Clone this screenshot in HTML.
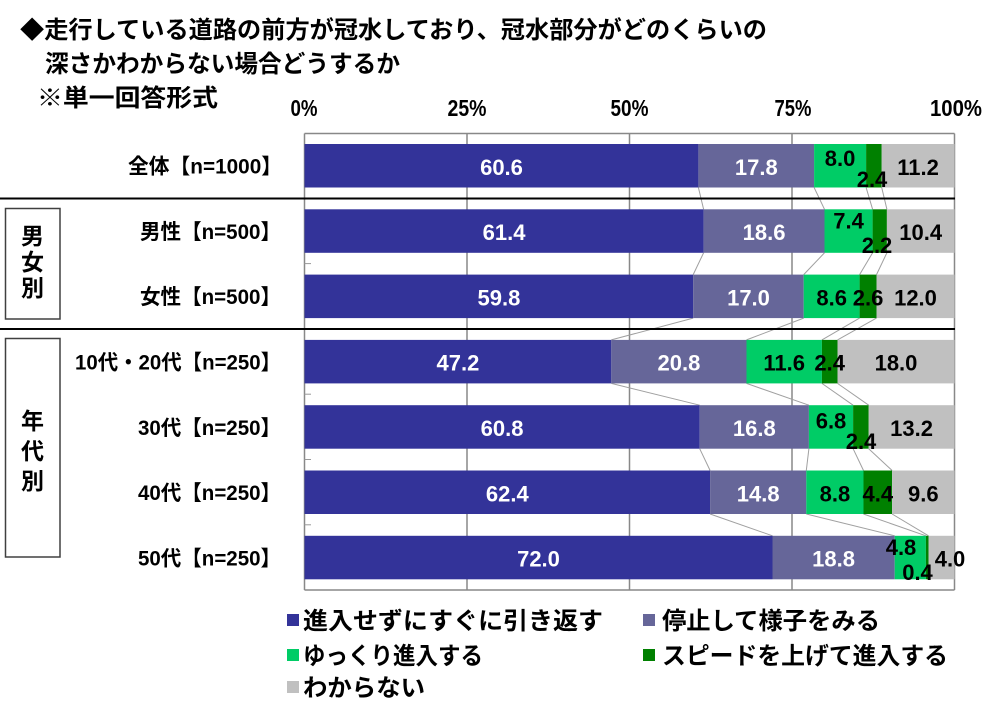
<!DOCTYPE html>
<html>
<head>
<meta charset="utf-8">
<style>
html,body{margin:0;padding:0;background:#fff;}
svg{display:block;}
.t{font-family:"Liberation Sans","Noto Sans CJK JP",sans-serif;font-weight:bold;fill:#000;}
.w{fill:#fff;}
</style>
</head>
<body>
<svg width="1000" height="703" viewBox="0 0 1000 703" xmlns="http://www.w3.org/2000/svg">
<rect x="0" y="0" width="1000" height="703" fill="#fff"/>

<!-- Title -->
<text class="t" x="20" y="38" font-size="24" textLength="747" lengthAdjust="spacingAndGlyphs">◆走行している道路の前方が冠水しており、冠水部分がどのくらいの</text>
<text class="t" x="45" y="72" font-size="24" textLength="355" lengthAdjust="spacingAndGlyphs">深さかわからない場合どうするか</text>
<text class="t" x="37" y="106" font-size="24" textLength="181" lengthAdjust="spacingAndGlyphs">※単一回答形式</text>

<!-- Axis labels -->
<g class="t" font-size="23" text-anchor="middle">
<text x="304" y="116" textLength="27" lengthAdjust="spacingAndGlyphs">0%</text>
<text x="467" y="116" textLength="39" lengthAdjust="spacingAndGlyphs">25%</text>
<text x="629.5" y="116" textLength="38" lengthAdjust="spacingAndGlyphs">50%</text>
<text x="793" y="116" textLength="37" lengthAdjust="spacingAndGlyphs">75%</text>
<text x="956" y="116" textLength="52" lengthAdjust="spacingAndGlyphs">100%</text>
</g>

<!-- Plot border & gridlines -->
<g stroke="#888" stroke-width="1.5" fill="none">
<line x1="304.5" y1="133.5" x2="954.5" y2="133.5"/>
<line x1="954.5" y1="133.5" x2="954.5" y2="590"/>
<line x1="304.5" y1="590" x2="954.5" y2="590"/>
<line x1="304.5" y1="133.5" x2="304.5" y2="590"/>
<line x1="467" y1="133.5" x2="467" y2="590"/>
<line x1="629.5" y1="133.5" x2="629.5" y2="590"/>
<line x1="792" y1="133.5" x2="792" y2="590"/>
</g>
<g stroke="#999" stroke-width="1">
<line x1="304.5" y1="263.6" x2="311" y2="263.6"/>
<line x1="304.5" y1="394.2" x2="311" y2="394.2"/>
<line x1="304.5" y1="459.5" x2="311" y2="459.5"/>
<line x1="304.5" y1="524.8" x2="311" y2="524.8"/>
</g>

<!-- Connector lines -->
<g stroke="#a0a0a0" stroke-width="1">
<line x1="698.4" y1="187.5" x2="703.6" y2="209.3"/>
<line x1="814.1" y1="187.5" x2="824.5" y2="209.3"/>
<line x1="866.1" y1="187.5" x2="872.6" y2="209.3"/>
<line x1="881.7" y1="187.5" x2="886.9" y2="209.3"/>

<line x1="703.6" y1="252.8" x2="693.2" y2="274.6"/>
<line x1="824.5" y1="252.8" x2="803.7" y2="274.6"/>
<line x1="872.6" y1="252.8" x2="859.6" y2="274.6"/>
<line x1="886.9" y1="252.8" x2="876.5" y2="274.6"/>

<line x1="693.2" y1="318.1" x2="611.3" y2="339.9"/>
<line x1="803.7" y1="318.1" x2="746.5" y2="339.9"/>
<line x1="859.6" y1="318.1" x2="821.9" y2="339.9"/>
<line x1="876.5" y1="318.1" x2="837.5" y2="339.9"/>

<line x1="611.3" y1="383.4" x2="699.7" y2="405.2"/>
<line x1="746.5" y1="383.4" x2="808.9" y2="405.2"/>
<line x1="821.9" y1="383.4" x2="853.1" y2="405.2"/>
<line x1="837.5" y1="383.4" x2="868.7" y2="405.2"/>

<line x1="699.7" y1="448.7" x2="710.1" y2="470.5"/>
<line x1="808.9" y1="448.7" x2="806.3" y2="470.5"/>
<line x1="853.1" y1="448.7" x2="863.5" y2="470.5"/>
<line x1="868.7" y1="448.7" x2="892.1" y2="470.5"/>

<line x1="710.1" y1="514" x2="772.5" y2="535.8"/>
<line x1="806.3" y1="514" x2="894.7" y2="535.8"/>
<line x1="863.5" y1="514" x2="925.9" y2="535.8"/>
<line x1="892.1" y1="514" x2="928.5" y2="535.8"/>
</g>

<!-- Bars -->
<g>
<!-- r0 -->
<rect x="304.5" y="144" width="393.9" height="43.5" fill="#333399"/>
<rect x="698.4" y="144" width="115.7" height="43.5" fill="#666699"/>
<rect x="814.1" y="144" width="52" height="43.5" fill="#00CC66"/>
<rect x="866.1" y="144" width="15.6" height="43.5" fill="#008000"/>
<rect x="881.7" y="144" width="72.8" height="43.5" fill="#C0C0C0"/>
<!-- r1 -->
<rect x="304.5" y="209.3" width="399.1" height="43.5" fill="#333399"/>
<rect x="703.6" y="209.3" width="120.9" height="43.5" fill="#666699"/>
<rect x="824.5" y="209.3" width="48.1" height="43.5" fill="#00CC66"/>
<rect x="872.6" y="209.3" width="14.3" height="43.5" fill="#008000"/>
<rect x="886.9" y="209.3" width="67.6" height="43.5" fill="#C0C0C0"/>
<!-- r2 -->
<rect x="304.5" y="274.6" width="388.7" height="43.5" fill="#333399"/>
<rect x="693.2" y="274.6" width="110.5" height="43.5" fill="#666699"/>
<rect x="803.7" y="274.6" width="55.9" height="43.5" fill="#00CC66"/>
<rect x="859.6" y="274.6" width="16.9" height="43.5" fill="#008000"/>
<rect x="876.5" y="274.6" width="78" height="43.5" fill="#C0C0C0"/>
<!-- r3 -->
<rect x="304.5" y="339.9" width="306.8" height="43.5" fill="#333399"/>
<rect x="611.3" y="339.9" width="135.2" height="43.5" fill="#666699"/>
<rect x="746.5" y="339.9" width="75.4" height="43.5" fill="#00CC66"/>
<rect x="821.9" y="339.9" width="15.6" height="43.5" fill="#008000"/>
<rect x="837.5" y="339.9" width="117" height="43.5" fill="#C0C0C0"/>
<!-- r4 -->
<rect x="304.5" y="405.2" width="395.2" height="43.5" fill="#333399"/>
<rect x="699.7" y="405.2" width="109.2" height="43.5" fill="#666699"/>
<rect x="808.9" y="405.2" width="44.2" height="43.5" fill="#00CC66"/>
<rect x="853.1" y="405.2" width="15.6" height="43.5" fill="#008000"/>
<rect x="868.7" y="405.2" width="85.8" height="43.5" fill="#C0C0C0"/>
<!-- r5 -->
<rect x="304.5" y="470.5" width="405.6" height="43.5" fill="#333399"/>
<rect x="710.1" y="470.5" width="96.2" height="43.5" fill="#666699"/>
<rect x="806.3" y="470.5" width="57.2" height="43.5" fill="#00CC66"/>
<rect x="863.5" y="470.5" width="28.6" height="43.5" fill="#008000"/>
<rect x="892.1" y="470.5" width="62.4" height="43.5" fill="#C0C0C0"/>
<!-- r6 -->
<rect x="304.5" y="535.8" width="468" height="43.5" fill="#333399"/>
<rect x="772.5" y="535.8" width="122.2" height="43.5" fill="#666699"/>
<rect x="894.7" y="535.8" width="31.2" height="43.5" fill="#00CC66"/>
<rect x="925.9" y="535.8" width="2.6" height="43.5" fill="#008000"/>
<rect x="928.5" y="535.8" width="26" height="43.5" fill="#C0C0C0"/>
</g>

<!-- Separators -->
<g stroke="#000" stroke-width="2">
<line x1="0" y1="198.5" x2="955" y2="198.5"/>
<line x1="0" y1="329" x2="955" y2="329"/>
</g>

<!-- Data labels -->
<g class="t" font-size="22" text-anchor="middle">
<!-- r0 c=165.75 -->
<text class="t w" x="501.5" y="175">60.6</text>
<text class="t w" x="756.3" y="175">17.8</text>
<text x="840.1" y="166">8.0</text>
<text x="872" y="187">2.4</text>
<text x="918.1" y="175">11.2</text>
<!-- r1 c=231 -->
<text class="t w" x="504.1" y="240">61.4</text>
<text class="t w" x="764.1" y="240">18.6</text>
<text x="848.6" y="228.5">7.4</text>
<text x="877" y="253">2.2</text>
<text x="920.7" y="240">10.4</text>
<!-- r2 c=296.35 -->
<text class="t w" x="498.9" y="305.5">59.8</text>
<text class="t w" x="748.5" y="305.5">17.0</text>
<text x="831.7" y="305.5">8.6</text>
<text x="868.1" y="305.5">2.6</text>
<text x="915.5" y="305.5">12.0</text>
<!-- r3 c=361.65 -->
<text class="t w" x="457.9" y="370.5">47.2</text>
<text class="t w" x="678.9" y="370.5">20.8</text>
<text x="784.2" y="370.5">11.6</text>
<text x="829.7" y="370.5">2.4</text>
<text x="896" y="370.5">18.0</text>
<!-- r4 c=426.95 -->
<text class="t w" x="502.1" y="436">60.8</text>
<text class="t w" x="754.3" y="436">16.8</text>
<text x="831" y="428.5">6.8</text>
<text x="861" y="449">2.4</text>
<text x="911.6" y="436">13.2</text>
<!-- r5 c=492.25 -->
<text class="t w" x="507.3" y="501.5">62.4</text>
<text class="t w" x="758.2" y="501.5">14.8</text>
<text x="834.9" y="501.5">8.8</text>
<text x="877.8" y="501.5">4.4</text>
<text x="923.3" y="501.5">9.6</text>
<!-- r6 c=557.55 -->
<text class="t w" x="538.5" y="566.5">72.0</text>
<text class="t w" x="833.6" y="566.5">18.8</text>
<text x="901" y="555">4.8</text>
<text x="917.5" y="580">0.4</text>
<text x="950" y="566.5">4.0</text>
</g>

<!-- Category labels -->
<g class="t" font-size="21">
<text x="128" y="173.5" textLength="154" lengthAdjust="spacingAndGlyphs">全体【n=1000】</text>
<text x="140" y="239" textLength="141" lengthAdjust="spacingAndGlyphs">男性【n=500】</text>
<text x="140" y="304" textLength="141" lengthAdjust="spacingAndGlyphs">女性【n=500】</text>
<text x="75" y="369.5" textLength="206" lengthAdjust="spacingAndGlyphs">10代・20代【n=250】</text>
<text x="138" y="435" textLength="143" lengthAdjust="spacingAndGlyphs">30代【n=250】</text>
<text x="138" y="500" textLength="143" lengthAdjust="spacingAndGlyphs">40代【n=250】</text>
<text x="138" y="565.5" textLength="143" lengthAdjust="spacingAndGlyphs">50代【n=250】</text>
</g>

<!-- Group boxes -->
<g fill="none" stroke="#404040" stroke-width="1.5">
<rect x="5.5" y="208.5" width="54.5" height="110.5"/>
<rect x="5.5" y="338.5" width="54.5" height="218.5"/>
</g>
<g class="t" font-size="23" text-anchor="middle">
<text x="32.5" y="244">男</text>
<text x="32.5" y="270">女</text>
<text x="32.5" y="296">別</text>
<text x="32.5" y="429">年</text>
<text x="32.5" y="459">代</text>
<text x="32.5" y="489">別</text>
</g>

<!-- Legend -->
<rect x="287" y="614" width="12" height="12" fill="#333399"/>
<rect x="643" y="614" width="12" height="12" fill="#666699"/>
<rect x="287" y="649" width="12" height="12" fill="#00CC66"/>
<rect x="643" y="649" width="12" height="12" fill="#008000"/>
<rect x="287" y="681" width="12" height="12" fill="#C0C0C0"/>
<g class="t" font-size="24">
<text x="303" y="629" textLength="300" lengthAdjust="spacingAndGlyphs">進入せずにすぐに引き返す</text>
<text x="662" y="629" textLength="218" lengthAdjust="spacingAndGlyphs">停止して様子をみる</text>
<text x="303" y="664" textLength="180" lengthAdjust="spacingAndGlyphs">ゆっくり進入する</text>
<text x="662" y="664" textLength="286" lengthAdjust="spacingAndGlyphs">スピードを上げて進入する</text>
<text x="303" y="696" textLength="122" lengthAdjust="spacingAndGlyphs">わからない</text>
</g>
</svg>
</body>
</html>
